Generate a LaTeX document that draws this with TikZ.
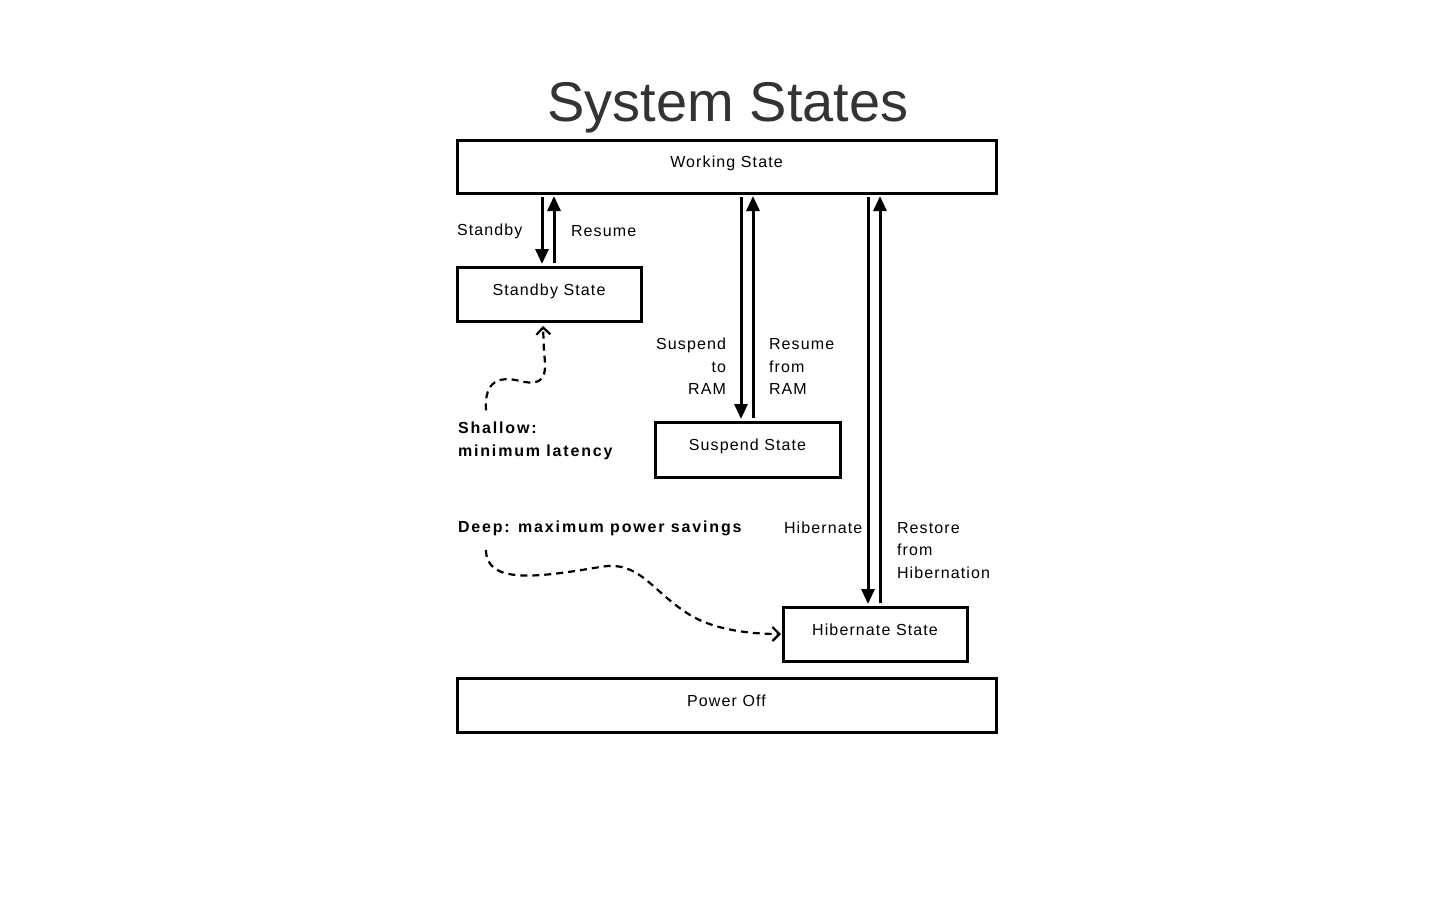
\documentclass[tikz,border=0pt]{standalone}
\usepackage{fontspec}
\setmainfont{Liberation Sans}
\newfontfamily\sslabelfont[LetterSpace=7]{Liberation Sans}
\newfontfamily\ssnotefont[LetterSpace=11.5]{Liberation Sans}
\usetikzlibrary{arrows.meta}

\definecolor{sstext}{RGB}{0,0,0}
\definecolor{sstitle}{RGB}{51,51,51}
\definecolor{ssline}{RGB}{0,0,0}

\begin{document}
\begin{tikzpicture}[
  x=0.5pt,
  y=-0.5pt,
  every node/.style={inner sep=0pt, outer sep=0pt},
  ssTitle/.style={font=\fontsize{28}{30}\selectfont, text=sstitle},
  ssLabel/.style={font=\sslabelfont\fontsize{8}{11.25}\selectfont, text=sstext},
  ssNote/.style={font=\ssnotefont\bfseries\fontsize{8}{11.25}\selectfont, text=sstext, align=left, anchor=west},
  ssBox/.style={ssLabel, draw=ssline, line width=1.5pt, text height=6.3pt, text depth=5.3pt},
  ssTrans/.style={draw=ssline, line width=1.5pt, -{Triangle[length=7.5pt,width=6.5pt]}, shorten <=2pt, shorten >=1.5pt},
  ssHint/.style={draw=ssline, line width=1.1pt, dash pattern=on 3.5pt off 2.5pt, -{Straight Barb[length=3.5pt,width=7pt]}}
]

  \path[use as bounding box] (0,0) rectangle (1440,900);

  \node[ssTitle, anchor=base] (title) at (728,121) {System States};

  % States
  \node[ssBox, minimum width=269.5pt, minimum height=26.5pt] (working) at (726.5,166.5) {Working State};
  \node[ssBox, minimum width=92pt, minimum height=27pt] (standby) at (549,294) {Standby State};
  \node[ssBox, minimum width=92.5pt, minimum height=27.5pt] (suspend) at (747.5,449.5) {Suspend State};
  \node[ssBox, minimum width=92pt, minimum height=27pt] (hibernate) at (875,634) {Hibernate State};
  \node[ssBox, minimum width=269.5pt, minimum height=27pt] (poweroff) at (726.5,705) {Power Off};

  % Transitions
  \draw[ssTrans] ([xshift=-3.5pt]standby.north |- working.south) -- ([xshift=-3.5pt]standby.north);
  \draw[ssTrans] ([xshift=2.5pt]standby.north) -- ([xshift=2.5pt]standby.north |- working.south);
  \draw[ssTrans] ([xshift=-3.25pt]suspend.north |- working.south) -- ([xshift=-3.25pt]suspend.north);
  \draw[ssTrans] ([xshift=2.75pt]suspend.north) -- ([xshift=2.75pt]suspend.north |- working.south);
  \draw[ssTrans] ([xshift=-3.5pt]hibernate.north |- working.south) -- ([xshift=-3.5pt]hibernate.north);
  \draw[ssTrans] ([xshift=2.5pt]hibernate.north) -- ([xshift=2.5pt]hibernate.north |- working.south);

  \node[ssLabel, anchor=west] (lblStandby) at (457,231.5) {Standby};
  \node[ssLabel, anchor=west] (lblResume) at (571,231) {Resume};
  \node[ssLabel, anchor=east, align=right] (lblSuspend) at (726,366.5) {Suspend\\to\\RAM};
  \node[ssLabel, anchor=west, align=left] (lblResumeRam) at (769,366.5) {Resume\\from\\RAM};
  \node[ssLabel, anchor=west] (lblHibernate) at (784,528) {Hibernate};
  \node[ssLabel, anchor=west, align=left] (lblRestore) at (897,550.5) {Restore\\from\\Hibernation};

  % Notes
  \node[ssNote] (shallow) at (458,441) {Shallow:\\minimum latency};
  \node[ssNote] (deep) at (458,528.5) {Deep: maximum power savings};

  \draw[ssHint] ([xshift=14pt,yshift=6pt]shallow.north west)
    .. controls (484,380) and (500,376) .. (520,381)
    .. controls (548,388) and (546,370) .. (544,352)
    -- ([xshift=-3pt,yshift=-2.5pt]standby.south);

  \draw[ssHint] ([xshift=14pt,yshift=-7pt]deep.south west)
    .. controls (486,585) and (540,577) .. (600,567)
    .. controls (640,560) and (650,590) .. (690,615)
    .. controls (715,630) and (750,634) .. ([xshift=-1pt]hibernate.west);

\end{tikzpicture}
\end{document}
